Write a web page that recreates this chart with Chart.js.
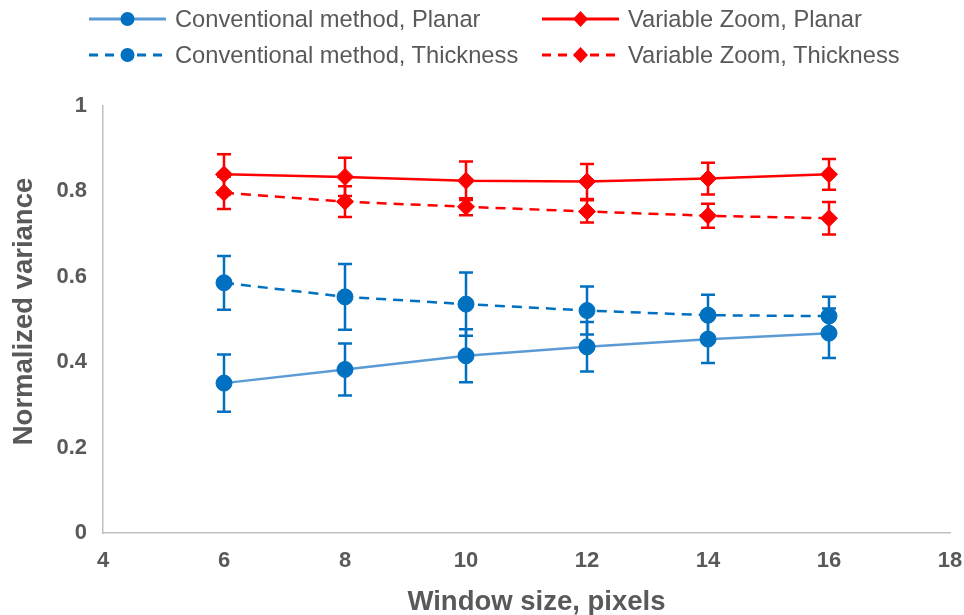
<!DOCTYPE html>
<html>
<head>
<meta charset="utf-8">
<title>Normalized variance vs window size</title>
<script src="https://cdn.jsdelivr.net/npm/chart.js@4/dist/chart.umd.min.js"></script>
<style>
  html, body { margin: 0; padding: 0; background: #ffffff; }
  #wrap { position: relative; width: 964px; height: 615px; overflow: hidden; }
  #chart { position: absolute; left: 0; top: 0; }
  .leg { position: absolute; height: 30px; line-height: 30px; white-space: nowrap;
         font-family: "Liberation Sans", Arial, sans-serif; font-size: 23.7px; color: #595959; }
  .leg svg { position: absolute; left: 0; top: 0; }
  .leg span { position: absolute; top: 0; }
</style>
</head>
<body>
<div id="wrap">
  <canvas id="chart" width="964" height="615"></canvas>
  <div id="legend"></div>
</div>
<script>
// Window sizes (pixels)
const windowSizes = [6, 8, 10, 12, 14, 16];

// Normalized variance means and error half-widths
const convPlanar     = [0.351, 0.383, 0.415, 0.436, 0.454, 0.468];
const convPlanarErr  = [0.067, 0.061, 0.062, 0.058, 0.056, 0.058];
const convThick      = [0.586, 0.553, 0.536, 0.521, 0.510, 0.508];
const convThickErr   = [0.063, 0.077, 0.074, 0.056, 0.048, 0.045];
const vzPlanar       = [0.840, 0.834, 0.825, 0.823, 0.830, 0.840];
const vzPlanarErr    = [0.047, 0.045, 0.045, 0.041, 0.037, 0.036];
const vzThick        = [0.797, 0.776, 0.764, 0.753, 0.743, 0.737];
const vzThickErr     = [0.038, 0.036, 0.020, 0.026, 0.028, 0.038];

const seriesLabels = [
  'Conventional method, Planar',
  'Variable Zoom, Planar',
  'Conventional method, Thickness',
  'Variable Zoom, Thickness'
];
const xTitle = 'Window size, pixels';
const yTitle = 'Normalized variance';

const BLUE = '#0070C0';
const BLUE_LIGHT = '#5B9BD5';
const RED = '#FF0000';
const TEXT = '#595959';
const DASH = [10, 7];
const FAMILY = '"Liberation Sans", Arial, sans-serif';

function pts(values) {
  return windowSizes.map((x, i) => ({ x: x, y: values[i] }));
}

const datasets = [
  { label: seriesLabels[0], data: pts(convPlanar), errors: convPlanarErr,
    borderColor: BLUE_LIGHT, backgroundColor: BLUE, pointBorderColor: BLUE,
    pointStyle: 'circle', pointRadius: 8, borderWidth: 2.5, errColor: BLUE, dash: [] },
  { label: seriesLabels[1], data: pts(vzPlanar), errors: vzPlanarErr,
    borderColor: RED, backgroundColor: RED, pointBorderColor: RED,
    pointStyle: 'rectRot', pointRadius: 8.5, borderWidth: 2.5, errColor: RED, dash: [] },
  { label: seriesLabels[2], data: pts(convThick), errors: convThickErr,
    borderColor: BLUE, backgroundColor: BLUE, pointBorderColor: BLUE,
    pointStyle: 'circle', pointRadius: 8, borderWidth: 2.5, errColor: BLUE, dash: DASH },
  { label: seriesLabels[3], data: pts(vzThick), errors: vzThickErr,
    borderColor: RED, backgroundColor: RED, pointBorderColor: RED,
    pointStyle: 'rectRot', pointRadius: 8.5, borderWidth: 2.5, errColor: RED, dash: DASH }
].map(d => Object.assign(d, {
  borderDash: d.dash,
  pointBackgroundColor: d.backgroundColor,
  pointBorderWidth: 1,
  pointHoverRadius: d.pointRadius,
  tension: 0,
  fill: false
}));

// Vertical error bars with caps, drawn under the markers
const errorBars = {
  id: 'errorBars',
  beforeDatasetsDraw(chart) {
    const { ctx, scales: { x, y } } = chart;
    const cap = 7;
    ctx.save();
    chart.data.datasets.forEach(ds => {
      ctx.strokeStyle = ds.errColor;
      ctx.lineWidth = 2.5;
      ctx.setLineDash([]);
      ds.data.forEach((p, i) => {
        const px = x.getPixelForValue(p.x);
        const top = y.getPixelForValue(p.y + ds.errors[i]);
        const bot = y.getPixelForValue(p.y - ds.errors[i]);
        ctx.beginPath();
        ctx.moveTo(px, top); ctx.lineTo(px, bot);
        ctx.moveTo(px - cap, top); ctx.lineTo(px + cap, top);
        ctx.moveTo(px - cap, bot); ctx.lineTo(px + cap, bot);
        ctx.stroke();
      });
    });
    ctx.restore();
  }
};

// Axis titles, placed a little off the plot centre as in the original layout
const axisTitles = {
  id: 'axisTitles',
  afterDraw(chart) {
    const { ctx, chartArea: a } = chart;
    ctx.save();
    ctx.fillStyle = TEXT;
    ctx.font = 'bold 27.5px ' + FAMILY;
    ctx.textAlign = 'center';
    ctx.textBaseline = 'middle';
    ctx.fillText(xTitle, (a.left + a.right) / 2 + 10, 602);
    ctx.translate(24, (a.top + a.bottom) / 2 - 8);
    ctx.rotate(-Math.PI / 2);
    ctx.fillText(yTitle, 0, 0);
    ctx.restore();
  }
};

const tickFont = { family: FAMILY, size: 22, weight: 'bold' };

new Chart(document.getElementById('chart'), {
  type: 'line',
  data: { datasets: datasets },
  plugins: [errorBars, axisTitles],
  options: {
    responsive: false,
    animation: false,
    layout: { padding: { left: 0, right: 14, top: 106, bottom: 0 } },
    plugins: { legend: { display: false }, tooltip: { enabled: false } },
    scales: {
      x: {
        type: 'linear', min: 4, max: 18,
        ticks: { stepSize: 2, color: TEXT, font: tickFont, padding: 15, maxRotation: 0 },
        grid: { display: false, drawTicks: false },
        border: { display: true, color: '#BFBFBF', width: 1.5 },
        afterFit(scale) { scale.height = 82; scale.paddingLeft = 0; scale.paddingRight = 0; }
      },
      y: {
        type: 'linear', min: 0, max: 1,
        ticks: { stepSize: 0.2, color: TEXT, font: tickFont, padding: 16,
                 callback: v => String(Number(v.toFixed(1))) },
        grid: { display: false, drawTicks: false },
        border: { display: true, color: '#BFBFBF', width: 1.5 },
        afterFit(scale) { scale.width = 103; scale.paddingTop = 0; scale.paddingBottom = 0; }
      }
    }
  }
});

// Two-column legend above the plot
const legendCols = [89, 542];
const legendRows = [18.5, 55];
const legendOrder = [[0, 0, 0], [1, 1, 0], [2, 0, 1], [3, 1, 1]];
const legendEl = document.getElementById('legend');
legendOrder.forEach(([di, col, row]) => {
  const ds = datasets[di];
  const item = document.createElement('div');
  item.className = 'leg';
  item.style.left = legendCols[col] + 'px';
  item.style.top = (legendRows[row] - 15) + 'px';
  const dashAttr = ds.dash.length ? ' stroke-dasharray="9,7"' : '';
  const marker = ds.pointStyle === 'circle'
    ? '<circle cx="38.5" cy="15" r="7" fill="' + ds.backgroundColor + '"/>'
    : '<polygon points="38.5,7 46,15 38.5,23 31,15" fill="' + ds.backgroundColor + '"/>';
  item.innerHTML =
    '<svg width="77" height="30"><line x1="0" y1="15" x2="77" y2="15" stroke="' + ds.borderColor +
    '" stroke-width="3"' + dashAttr + '/>' + marker + '</svg>' +
    '<span style="left:86px">' + ds.label + '</span>';
  legendEl.appendChild(item);
});
</script>
</body>
</html>
